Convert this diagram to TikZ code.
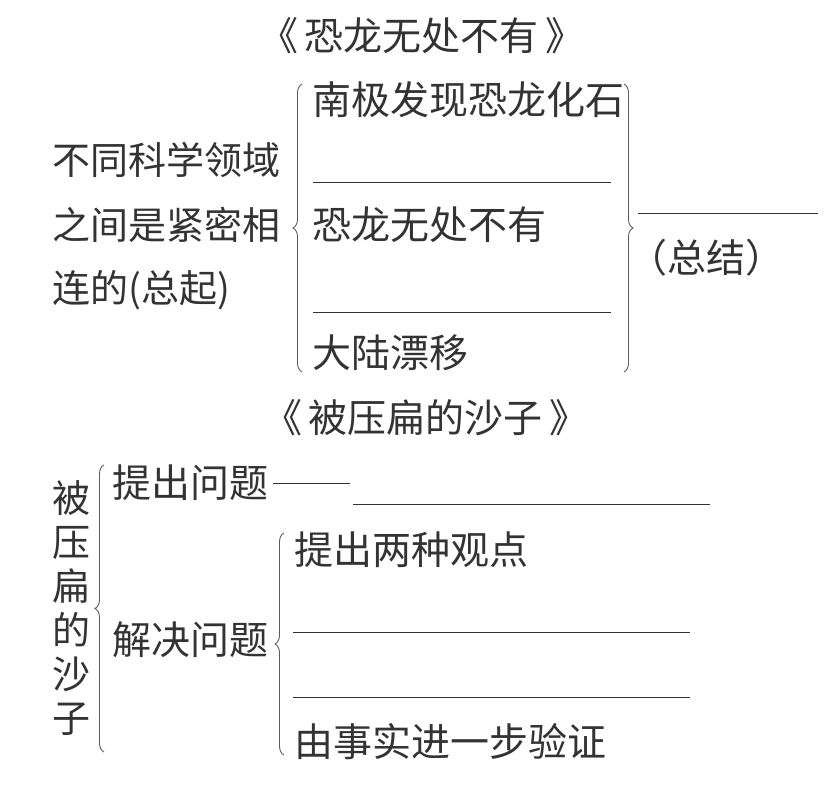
\documentclass[tikz,border=0pt]{standalone}
\usepackage{fontspec}
\setmainfont{Noto Sans CJK SC}
\usetikzlibrary{decorations.pathreplacing}
\definecolor{ink}{HTML}{333333}
\tikzset{
  txt/.style={inner sep=0pt, anchor=west, text=ink, font=\fontsize{39}{42}\selectfont},
  ltxt/.style={inner sep=0pt, anchor=west, text=ink, font=\fontsize{38}{42}\selectfont},
  ttl/.style={inner sep=0pt, text=ink, font=\fontsize{39}{42}\selectfont},
  blank/.style={draw=ink, line width=1pt},
  brc/.style={draw=ink!80, line width=0.9pt, decorate, decoration={brace, amplitude=9pt}}
}
\begin{document}
\begin{tikzpicture}[x=1pt,y=-1pt]
\useasboundingbox[fill=white] (0,0) rectangle (838,798);
% section 1
\node[ttl] (t1) at (422,36) {《\,恐龙无处不有\,》};
\node[ltxt] (l1) at (52,160) {不同科学领域};
\node[ltxt] (l2) at (52,225) {之间是紧密相};
\node[ltxt] (l3) at (52,290) {连的(总起)};
\coordinate (b1a) at (302,372);
\coordinate (b1b) at (302,84);
\draw[brc] (b1a) -- (b1b);
\node[txt] (a1) at (312,100) {南极发现恐龙化石};
\coordinate (s1a) at (313,182); \coordinate (s1b) at (611,182);
\draw[blank] (s1a) -- (s1b);
\node[txt] (a2) at (312,225) {恐龙无处不有};
\coordinate (s2a) at (313,312); \coordinate (s2b) at (611,312);
\draw[blank] (s2a) -- (s2b);
\node[txt] (a3) at (312,353) {大陆漂移};
\coordinate (b2a) at (624,84);
\coordinate (b2b) at (624,372);
\draw[brc] (b2a) -- (b2b);
\coordinate (s3a) at (638,213); \coordinate (s3b) at (818,213);
\draw[blank] (s3a) -- (s3b);
\node[txt] (sum) at (628,258) {（总结）};
% section 2
\node[ttl] (t2) at (426,418) {《\,被压扁的沙子\,》};
\node[inner sep=0pt, text=ink, font=\fontsize{38}{44}\selectfont, align=center, text width=40pt] (v) at (72,608) {被\\压\\扁\\的\\沙\\子};
\coordinate (b3a) at (104,752);
\coordinate (b3b) at (104,465);
\draw[brc] (b3a) -- (b3b);
\node[txt] (q1) at (112,483) {提出问题};
\coordinate (s4a) at (273,483); \coordinate (s4b) at (350,483);
\draw[blank, line width=0.7pt] (s4a) -- (s4b);
\coordinate (s5a) at (353,504); \coordinate (s5b) at (710,504);
\draw[blank] (s5a) -- (s5b);
\node[txt] (q2) at (112,640) {解决问题};
\coordinate (b4a) at (284,755);
\coordinate (b4b) at (284,533);
\draw[brc] (b4a) -- (b4b);
\node[txt] (p1) at (294,550) {提出两种观点};
\coordinate (s6a) at (293,632); \coordinate (s6b) at (690,632);
\draw[blank] (s6a) -- (s6b);
\coordinate (s7a) at (293,697); \coordinate (s7b) at (690,697);
\draw[blank] (s7a) -- (s7b);
\node[txt] (p2) at (294,742) {由事实进一步验证};
\end{tikzpicture}
\end{document}
